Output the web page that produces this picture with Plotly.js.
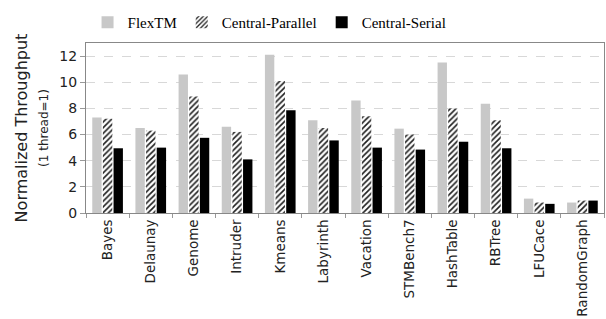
<!DOCTYPE html>
<html>
<head>
<meta charset="utf-8">
<script src="https://cdn.plot.ly/plotly-3.0.1.min.js"></script>
<style>html,body{margin:0;padding:0;background:#fff;}#chart{width:606px;height:319px;}</style>
</head>
<body>
<div id="chart"></div>
<script>
const categories = ["Bayes","Delaunay","Genome","Intruder","Kmeans","Labyrinth","Vacation","STMBench7","HashTable","RBTree","LFUCace","RandomGraph"];
const flexTM = [7.3, 6.5, 10.6, 6.6, 12.1, 7.1, 8.6, 6.45, 11.5, 8.35, 1.1, 0.8];
const centralParallel = [7.2, 6.3, 8.9, 6.2, 10.1, 6.5, 7.4, 6.0, 8.0, 7.1, 0.8, 0.95];
const centralSerial = [4.95, 5.0, 5.75, 4.1, 7.85, 5.55, 5.0, 4.85, 5.45, 4.95, 0.7, 0.95];
const yTicks = [0, 2, 4, 6, 8, 10, 12];

const traces = [
  {type:"bar", name:"FlexTM", x:categories, y:flexTM,
   marker:{color:"#c8c8c8", line:{width:0}}},
  {type:"bar", name:"Central-Parallel", x:categories, y:centralParallel,
   marker:{color:"#ffffff", line:{width:0},
     pattern:{shape:"/", fgcolor:"#202020", bgcolor:"#ffffff", size:4, solidity:0.4}}},
  {type:"bar", name:"Central-Serial", x:categories, y:centralSerial,
   marker:{color:"#000000", line:{width:0}}}
];

const layout = {
  width:606, height:319,
  margin:{l:86, r:2, t:43, b:106},
  paper_bgcolor:"#ffffff", plot_bgcolor:"#ffffff",
  barmode:"group", bargap:0.26, bargroupgap:0.12,
  showlegend:true,
  legend:{orientation:"h", x:0.003, xanchor:"left", y:1.12, yanchor:"middle",
    font:{family:"Liberation Serif, Times New Roman, serif", size:15, color:"#000"},
    itemwidth:30, tracegroupgap:0, bgcolor:"rgba(0,0,0,0)"},
  font:{family:"DejaVu Sans, Verdana, sans-serif", color:"#222"},
  xaxis:{type:"category", tickangle:-90, tickson:"boundaries", ticks:"outside", ticklen:4,
    tickcolor:"#999", tickfont:{size:13.5, color:"#222"},
    showline:true, linecolor:"#888", linewidth:1, mirror:true, showgrid:false},
  yaxis:{range:[0,13], tickvals:yTicks, ticktext:yTicks.map(String), ticks:"outside", ticklen:5,
    tickcolor:"#999", tickfont:{size:14, color:"#222"},
    showline:true, linecolor:"#888", linewidth:1, mirror:true,
    showgrid:true, gridcolor:"#d8d8d8", griddash:"dash", gridwidth:1, zeroline:false,
    title:{text:"Normalized Throughput<br><span style='font-size:12px'>(1 thread=1)</span>",
      font:{size:16, color:"#222"}, standoff:6}}
};

Plotly.newPlot("chart", traces, layout, {displayModeBar:false, staticPlot:true});
</script>
</body>
</html>
